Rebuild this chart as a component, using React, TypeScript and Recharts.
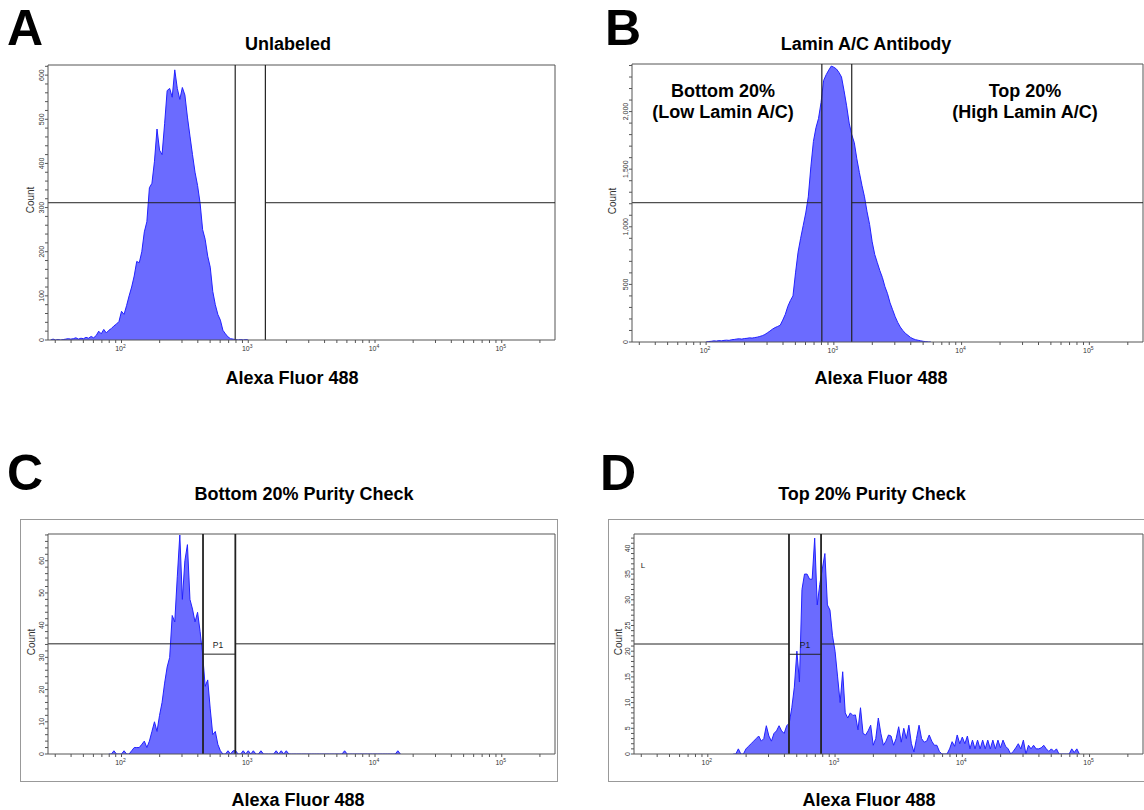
import { AreaChart, Area, XAxis, YAxis, ReferenceLine } from "recharts";

// log10 fluorescence axis, same for all four panels
const X_MIN = 1.42;
const X_MAX = 5.42;
const BIN = 0.02;

const X_DECADES = [2, 3, 4, 5];
const X_MINOR = [1, 2, 3, 4, 5]
  .flatMap((d) => [2, 3, 4, 5, 6, 7, 8, 9].map((k) => d + Math.log10(k)))
  .filter((v) => v > X_MIN && v < X_MAX);
const X_TICKS = [...X_DECADES, ...X_MINOR].sort((a, b) => a - b);

// A - Unlabeled (bins start at log10 = 1.44)
const A_START = 1.44;
const A_COUNTS = [
  0, 2, 0, 1, 0, 1, 2, 3, 2, 3,
  5, 2, 4, 3, 6, 4, 8, 5, 10, 20,
  14, 24, 16, 22, 26, 32, 36, 42, 65, 58,
  78, 100, 120, 145, 178, 175, 200, 245, 268, 345,
  355, 405, 478, 430, 420, 490, 565, 570, 550, 612,
  570, 545, 572, 555, 505, 462, 420, 380, 350, 310,
  250, 228, 190, 165, 110, 80, 58, 45, 22, 14,
  7, 3, 2, 1, 0, 1, 0, 1, 0,
];
const A_Y_MAJOR = [0, 100, 200, 300, 400, 500, 600];

// B - Lamin A/C antibody (bins start at log10 = 2.00)
const B_START = 2.0;
const B_COUNTS = [
  0, 4, 6, 10, 8, 12, 10, 14, 16, 14,
  20, 22, 26, 28, 25, 30, 32, 36, 34, 38,
  42, 48, 55, 65, 80, 95, 112, 125, 135, 145,
  190, 240, 310, 360, 400, 600, 780, 900, 1010, 1120,
  1260, 1520, 1740, 1860, 1940, 2080, 2270, 2320, 2360, 2395,
  2385, 2370, 2340, 2300, 2180, 2050, 1900, 1800, 1730, 1590,
  1470, 1360, 1260, 1130, 1020, 870, 760, 690, 620, 560,
  480, 420, 340, 280, 220, 170, 130, 100, 75, 58,
  40, 28, 20, 15, 10, 6, 3, 1, 0,
];
const B_Y_MAJOR = [0, 500, 1000, 1500, 2000];

// C - Bottom 20% purity check (bins start at log10 = 1.90)
const C_START = 1.9;
const C_COUNTS = [
  0, 0, 1, 0, 0, 0, 1, 0, 0, 1,
  2, 2, 2, 3, 4, 2, 4, 7, 10, 7,
  12, 16, 22, 27, 30, 43, 41, 55, 68, 48,
  60, 65, 48, 45, 41, 44, 38, 31, 21, 23,
  14, 6, 7, 3, 1, 0, 0, 1, 0, 1,
  1, 0, 0, 1, 0, 1, 0, 1, 0, 0,
  1, 0, 0, 0, 0, 0, 1, 0, 1, 0,
  1, 0, 0, 0, 0, 0, 0, 0, 0, 0,
  0, 0, 0, 0, 0, 0, 0, 0, 0, 0,
  0, 0, 0, 1, 0, 0, 0, 0, 0, 0,
  0, 0, 0, 0, 0, 0, 0, 0, 0, 0,
  0, 0, 0, 0, 1, 0,
];
const C_Y_MAJOR = [0, 10, 20, 30, 40, 50, 60];

// D - Top 20% purity check (bins start at log10 = 2.20)
const D_START = 2.2;
const D_COUNTS = [
  0, 0, 1, 0, 0, 1, 1.5, 2, 2.5, 3,
  3.5, 2.5, 3, 5.5, 3.5, 2.5, 4, 4.5, 5.5, 4.5,
  4, 5.5, 6, 9, 13, 20, 14, 32, 35, 35,
  34, 34, 42, 29, 33, 36, 39, 29, 28, 23,
  20, 15, 10, 16, 8, 7, 8, 7.5, 7.6, 4.7,
  9, 4, 3.7, 4.5, 5.6, 1.7, 3, 7, 4, 1.7,
  2.5, 3.7, 3.5, 1.7, 3, 5.3, 2.3, 5, 3, 5.6,
  2, 0.4, 3, 5.6, 3, 2.3, 2.5, 3.7, 2.5, 1.7,
  1.7, 0.5, 0, 0, 0, 1, 2.4, 1.5, 3.7, 2,
  3.3, 2, 3.5, 1, 2.7, 1, 2.7, 1, 2.7, 1,
  2.7, 1, 2.7, 1, 2.7, 1.2, 2.7, 1.5, 1, 0,
  0.5, 1.2, 2, 1, 2.7, 0, 1.7, 1, 1.7, 1,
  1, 1.2, 1.7, 1, 0.5, 1, 0.5, 1, 0, 0,
  0, 0, 0, 1, 0.3, 1, 0,
];
const D_Y_MAJOR = [0, 5, 10, 15, 20, 25, 30, 35, 40];

const FILL = "#6b6bff";
const LINE = "#2222ff";
const AXIS = "#555";
const GATE = "#222";
const TXT = "#333";
const FONT = '"Liberation Sans", Arial, sans-serif';

const range = (from: number, to: number, step: number) => {
  const out: number[] = [];
  for (let v = from; v <= to + 1e-9; v += step) out.push(+v.toFixed(4));
  return out;
};

const fmt = (v: number) => v.toLocaleString("en-US");

function XTick(props: any) {
  const { x, y, payload } = props;
  if (!X_DECADES.includes(payload.value)) return null;
  return (
    <text x={x - 1} y={y + 6} fontSize={7} fill={TXT} textAnchor="middle" fontFamily={FONT}>
      10
      <tspan dy={-3} fontSize={5}>
        {payload.value}
      </tspan>
    </text>
  );
}

const makeYTick = (major: number[]) => (props: any) => {
  const { x, y, payload } = props;
  if (!major.includes(payload.value)) return null;
  return (
    <text
      x={x}
      y={y}
      transform={`rotate(-90 ${x} ${y})`}
      textAnchor="middle"
      fontSize={7}
      fill={TXT}
      fontFamily={FONT}
    >
      {fmt(payload.value)}
    </text>
  );
};

interface HistProps {
  left: number;
  top: number;
  plotW: number;
  plotH: number;
  start: number;
  counts: number[];
  yMax: number;
  yMajor: number[];
  yMinorStep: number;
  g1: number;
  g2: number;
  level: number;
  p1?: number;
  gateWidth: number;
  topStroke: string;
  topWidth: number;
}

const Histogram = (p: HistProps) => {
  const data = p.counts.map((c, i) => ({ x: +(p.start + i * BIN).toFixed(3), c }));
  const yTicks = range(0, p.yMax, p.yMinorStep);
  return (
    <div style={{ position: "absolute", left: p.left - 30, top: p.top - 2 }}>
      <AreaChart
        width={30 + p.plotW + 2}
        height={p.plotH + 24}
        data={data}
        margin={{ top: 2, right: 2, bottom: 0, left: 0 }}
      >
        <XAxis
          type="number"
          dataKey="x"
          domain={[X_MIN, X_MAX]}
          allowDataOverflow
          ticks={X_TICKS}
          interval={0}
          tickSize={3}
          height={22}
          stroke={AXIS}
          tick={XTick}
        />
        <YAxis
          type="number"
          domain={[0, p.yMax]}
          allowDataOverflow
          ticks={yTicks}
          interval={0}
          tickSize={3}
          tickMargin={1}
          width={30}
          stroke={AXIS}
          tick={makeYTick(p.yMajor)}
        />
        <Area
          type="linear"
          dataKey="c"
          stroke={LINE}
          strokeWidth={1}
          fill={FILL}
          fillOpacity={1}
          dot={false}
          activeDot={false}
          isAnimationActive={false}
        />
        <ReferenceLine y={p.yMax} stroke={p.topStroke} strokeWidth={p.topWidth} ifOverflow="visible" />
        <ReferenceLine x={X_MAX} stroke={AXIS} ifOverflow="visible" />
        <ReferenceLine
          segment={[{ x: X_MIN, y: p.level }, { x: p.g1, y: p.level }]}
          stroke={GATE}
          ifOverflow="visible"
        />
        <ReferenceLine
          segment={[{ x: p.g2, y: p.level }, { x: X_MAX, y: p.level }]}
          stroke={GATE}
          ifOverflow="visible"
        />
        {p.p1 !== undefined && (
          <ReferenceLine
            segment={[{ x: p.g1, y: p.p1 }, { x: p.g2, y: p.p1 }]}
            stroke={GATE}
            ifOverflow="visible"
          />
        )}
        <ReferenceLine x={p.g1} stroke={GATE} strokeWidth={p.gateWidth} ifOverflow="visible" />
        <ReferenceLine x={p.g2} stroke={GATE} strokeWidth={p.gateWidth} ifOverflow="visible" />
      </AreaChart>
    </div>
  );
};

const Title = ({ x, y, children, size = 18 }: any) => (
  <text x={x} y={y} textAnchor="middle" fontSize={size} fontWeight="bold" fill="#000" fontFamily={FONT}>
    {children}
  </text>
);

const Count = ({ x, y }: { x: number; y: number }) => (
  <text
    x={x}
    y={y}
    transform={`rotate(-90 ${x} ${y})`}
    textAnchor="middle"
    fontSize={10}
    fill={TXT}
    fontFamily={FONT}
  >
    Count
  </text>
);

const App = () => {
  return (
    <div
      style={{
        position: "fixed",
        left: 0,
        top: 0,
        width: 1144,
        height: 810,
        overflow: "hidden",
        background: "#fff",
        fontFamily: FONT,
      }}
    >
      <div style={{ position: "absolute", left: 20, top: 519, width: 536, height: 261, border: "1px solid #999" }} />
      <div style={{ position: "absolute", left: 608, top: 519, width: 560, height: 261, border: "1px solid #999" }} />

      <Histogram
        left={48} top={65} plotW={507} plotH={275}
        start={A_START} counts={A_COUNTS}
        yMax={623} yMajor={A_Y_MAJOR} yMinorStep={20}
        g1={2.897} g2={3.135} level={311} gateWidth={1.2}
        topStroke={AXIS} topWidth={1}
      />
      <Histogram
        left={632} top={64} plotW={511} plotH={278}
        start={B_START} counts={B_COUNTS}
        yMax={2413} yMajor={B_Y_MAJOR} yMinorStep={100}
        g1={2.906} g2={3.14} level={1209} gateWidth={1.2}
        topStroke={AXIS} topWidth={1}
      />
      <Histogram
        left={48} top={534} plotW={507} plotH={220}
        start={C_START} counts={C_COUNTS}
        yMax={68.3} yMajor={C_Y_MAJOR} yMinorStep={2}
        g1={2.643} g2={2.898} level={34.2} p1={31} gateWidth={1.8}
        topStroke="#aaa" topWidth={2}
      />
      <Histogram
        left={634} top={534} plotW={509} plotH={220}
        start={D_START} counts={D_COUNTS}
        yMax={42.8} yMajor={D_Y_MAJOR} yMinorStep={1}
        g1={2.638} g2={2.89} level={21.4} p1={19.4} gateWidth={1.8}
        topStroke="#aaa" topWidth={2}
      />

      <svg
        width={1144}
        height={810}
        style={{ position: "absolute", left: 0, top: 0, pointerEvents: "none" }}
      >
        <Title x={25} y={45} size={50}>A</Title>
        <Title x={623} y={45} size={50}>B</Title>
        <Title x={25} y={490} size={50}>C</Title>
        <Title x={618} y={490} size={50}>D</Title>

        <Title x={288} y={50}>Unlabeled</Title>
        <Title x={866} y={50}>Lamin A/C Antibody</Title>
        <Title x={304} y={500}>Bottom 20% Purity Check</Title>
        <Title x={872} y={500}>Top 20% Purity Check</Title>

        <Title x={292} y={384}>Alexa Fluor 488</Title>
        <Title x={881} y={384}>Alexa Fluor 488</Title>
        <Title x={298} y={806}>Alexa Fluor 488</Title>
        <Title x={869} y={806}>Alexa Fluor 488</Title>

        <Title x={723} y={97}>Bottom 20%</Title>
        <Title x={723} y={118}>(Low Lamin A/C)</Title>
        <Title x={1025} y={97}>Top 20%</Title>
        <Title x={1025} y={118}>(High Lamin A/C)</Title>

        <Count x={34} y={200} />
        <Count x={616} y={201} />
        <Count x={35} y={642} />
        <Count x={622} y={642} />

        <text x={218} y={648} textAnchor="middle" fontSize={8.5} fill="#222" fontFamily={FONT}>P1</text>
        <text x={805} y={648} textAnchor="middle" fontSize={8.5} fill="#222" fontFamily={FONT}>P1</text>
        <text x={643} y={568} textAnchor="middle" fontSize={8} fill="#222" fontFamily={FONT}>L</text>
      </svg>
    </div>
  );
};

export default App;
